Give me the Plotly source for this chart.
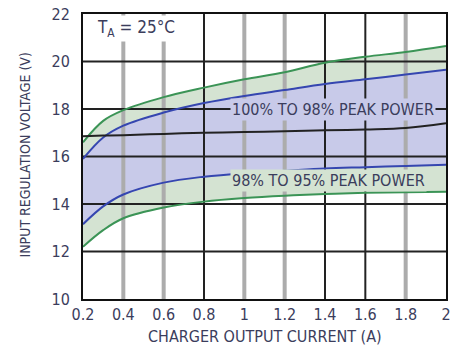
import plotly.graph_objects as go

current = [0.2, 0.3, 0.4, 0.6, 0.8, 1.0, 1.2, 1.4, 1.6, 1.8, 2.0]
upper_green = [16.6, 17.5, 17.95, 18.5, 18.9, 19.25, 19.55, 19.95, 20.2, 20.4, 20.65]
upper_blue = [15.9, 16.8, 17.3, 17.85, 18.25, 18.55, 18.8, 19.05, 19.25, 19.45, 19.65]
peak_line = [16.85, 16.88, 16.9, 16.95, 17.0, 17.03, 17.06, 17.1, 17.14, 17.2, 17.4]
lower_blue = [13.15, 13.9, 14.4, 14.9, 15.15, 15.3, 15.4, 15.5, 15.55, 15.6, 15.65]
lower_green = [12.2, 12.9, 13.4, 13.85, 14.1, 14.25, 14.35, 14.42, 14.47, 14.5, 14.52]

x_ticks = [0.2, 0.4, 0.6, 0.8, 1.0, 1.2, 1.4, 1.6, 1.8, 2.0]
x_tick_text = ["0.2", "0.4", "0.6", "0.8", "1", "1.2", "1.4", "1.6", "1.8", "2"]
y_ticks = [10, 12, 14, 16, 18, 20, 22]
gray_grid = [0.4, 0.6, 1.0, 1.2, 1.8]
black_grid = [0.8, 1.4, 1.6]

GREEN = "#3b9456"
BLUE = "#3546b0"
GREEN_FILL = "#d4e3d2"
BLUE_FILL = "#c8cae9"
TXT = "#3b3d5c"
FONT = "DejaVu Sans Condensed, Liberation Sans, Arial, sans-serif"

fig = go.Figure()

# fills
fig.add_trace(go.Scatter(x=current, y=lower_green, mode="lines", line=dict(width=0), showlegend=False, hoverinfo="skip"))
fig.add_trace(go.Scatter(x=current, y=lower_blue, mode="lines", line=dict(width=0), fill="tonexty", fillcolor=GREEN_FILL, showlegend=False, hoverinfo="skip"))
fig.add_trace(go.Scatter(x=current, y=upper_blue, mode="lines", line=dict(width=0), fill="tonexty", fillcolor=BLUE_FILL, showlegend=False, hoverinfo="skip"))
fig.add_trace(go.Scatter(x=current, y=upper_green, mode="lines", line=dict(width=0), fill="tonexty", fillcolor=GREEN_FILL, showlegend=False, hoverinfo="skip"))

# grid lines
for gx in gray_grid:
    fig.add_trace(go.Scatter(x=[gx, gx], y=[y_ticks[0], y_ticks[-1]], mode="lines", line=dict(color="#acacac", width=4), showlegend=False, hoverinfo="skip"))
for gx in black_grid:
    fig.add_trace(go.Scatter(x=[gx, gx], y=[y_ticks[0], y_ticks[-1]], mode="lines", line=dict(color="#222222", width=2), showlegend=False, hoverinfo="skip"))
for gy in y_ticks[1:-1]:
    fig.add_trace(go.Scatter(x=[x_ticks[0], x_ticks[-1]], y=[gy, gy], mode="lines", line=dict(color="#222222", width=2), showlegend=False, hoverinfo="skip"))

# curves
fig.add_trace(go.Scatter(x=current, y=upper_green, mode="lines", line=dict(color=GREEN, width=2, shape="spline"), showlegend=False))
fig.add_trace(go.Scatter(x=current, y=upper_blue, mode="lines", line=dict(color=BLUE, width=2, shape="spline"), showlegend=False))
fig.add_trace(go.Scatter(x=current, y=peak_line, mode="lines", line=dict(color="#222222", width=2, shape="spline"), showlegend=False))
fig.add_trace(go.Scatter(x=current, y=lower_blue, mode="lines", line=dict(color=BLUE, width=2, shape="spline"), showlegend=False))
fig.add_trace(go.Scatter(x=current, y=lower_green, mode="lines", line=dict(color=GREEN, width=2, shape="spline"), showlegend=False))

annotations = [
    dict(x=0.463, y=21.4, xref="x", yref="y", text="T<sub>A</sub> = 25°C", showarrow=False,
         font=dict(family=FONT, size=17, color=TXT), bgcolor="white", borderpad=1),
    dict(x=1.44, y=18.0, xref="x", yref="y", text="100% TO 98% PEAK POWER", showarrow=False,
         font=dict(family=FONT, size=16, color=TXT), bgcolor=BLUE_FILL, borderpad=1),
    dict(x=1.415, y=15.0, xref="x", yref="y", text="98% TO 95% PEAK POWER", showarrow=False,
         font=dict(family=FONT, size=16, color=TXT), bgcolor=GREEN_FILL, borderpad=1),
    dict(x=-0.186, y=0.505, xref="paper", yref="paper", text="INPUT REGULATION VOLTAGE (V)", showarrow=False,
         textangle=-90, font=dict(family=FONT, size=14, color=TXT)),
    dict(x=0.5, y=-0.133, xref="paper", yref="paper", text="CHARGER OUTPUT CURRENT (A)", showarrow=False,
         yanchor="middle", font=dict(family=FONT, size=16, color=TXT)),
]

fig.update_layout(
    width=452, height=350,
    margin=dict(l=83, r=6, t=14, b=51),
    paper_bgcolor="white", plot_bgcolor="white",
    annotations=annotations,
    xaxis=dict(range=[0.2, 2.0], tickvals=x_ticks, ticktext=x_tick_text, showgrid=False, zeroline=False,
               showline=True, linecolor="#111111", linewidth=2, mirror=True, ticks="", automargin=False,
               ticklabeloverflow="allow", tickfont=dict(family=FONT, size=16, color=TXT)),
    yaxis=dict(range=[10, 22], tickvals=y_ticks, showgrid=False, zeroline=False,
               showline=True, linecolor="#111111", linewidth=2, mirror=True, ticks="", automargin=False,
               ticklabeloverflow="allow", tickfont=dict(family=FONT, size=16, color=TXT), ticklabelstandoff=8),
)

# remove the default page margin so the figure fills the 452x350 window exactly
fig.write_html("out.html", config={"displayModeBar": False},
               post_script="document.body.style.margin='0';document.body.style.overflow='hidden';")
